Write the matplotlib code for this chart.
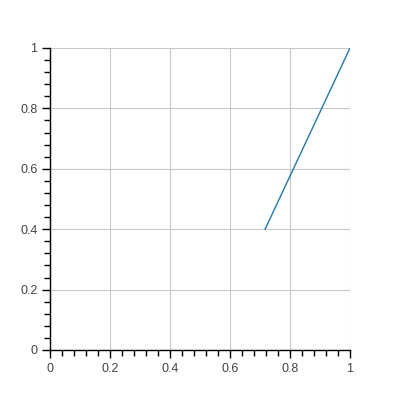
import matplotlib
matplotlib.use("Agg")
import matplotlib.pyplot as plt
from matplotlib.ticker import MultipleLocator

x = [0.717, 1.0]
y = [0.4, 1.0]
ticks = [0, 0.2, 0.4, 0.6, 0.8, 1]
tick_labels = ["0", "0.2", "0.4", "0.6", "0.8", "1"]

plt.rcParams['font.family'] = ['Liberation Sans', 'DejaVu Sans']

fig = plt.figure(figsize=(4, 4), dpi=100)
ax = fig.add_axes([50 / 400, 50 / 400, 300 / 400, 302 / 400])

ax.plot(x, y, color="#1f77b4", linewidth=1)

ax.set_xlim(0, 1)
ax.set_ylim(0, 1)
ax.set_xticks(ticks)
ax.set_xticklabels(tick_labels)
ax.set_yticks(ticks)
ax.set_yticklabels(tick_labels)
ax.xaxis.set_minor_locator(MultipleLocator(0.04))
ax.yaxis.set_minor_locator(MultipleLocator(0.04))

ax.grid(True, which="major", color="#c8c8c8", linewidth=0.8)
ax.set_axisbelow(True)

for side in ["top", "right"]:
    ax.spines[side].set_visible(False)
ax.spines["left"].set_linewidth(1)
ax.spines["bottom"].set_linewidth(1)

ax.tick_params(which="major", direction="out", length=6, width=1,
               labelsize=9, labelcolor="#444444", pad=3)
ax.tick_params(which="minor", direction="out", length=4, width=1)

fig.savefig("out.png", dpi=100)
